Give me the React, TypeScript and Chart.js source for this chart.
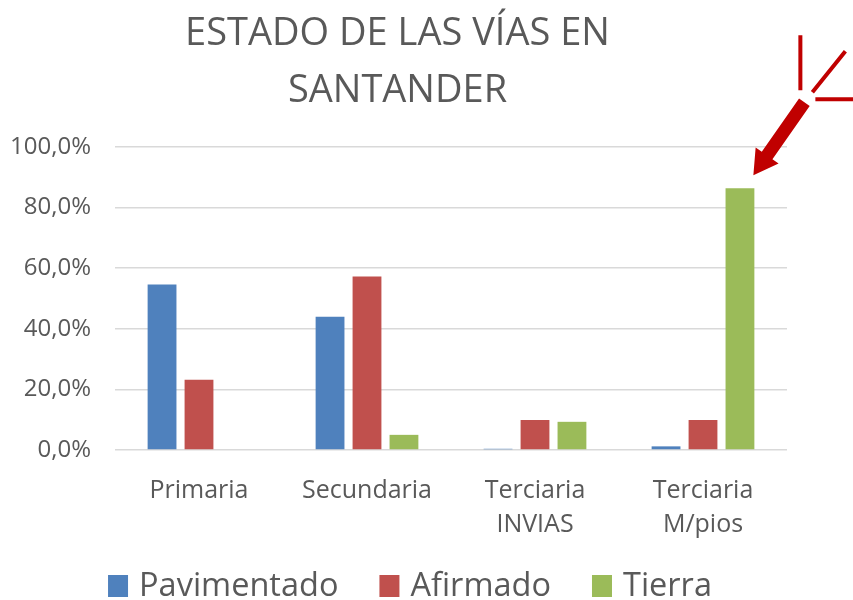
import React, { useEffect, useRef } from "react";
import { Chart, registerables } from "chart.js";

Chart.register(...registerables);

const categories: (string | string[])[] = [
  "Primaria",
  "Secundaria",
  ["Terciaria", "INVIAS"],
  ["Terciaria", "M/pios"],
];
const pavimentado = [54.6, 44.0, 0.4, 1.2];
const afirmado = [23.2, 57.3, 9.9, 9.9];
const tierra = [0, 5.0, 9.3, 86.4];
const titleLines = ["ESTADO DE LAS VÍAS EN", "SANTANDER"];

const FONT = "'Open Sans', 'DejaVu Sans', sans-serif";

const arrowPlugin = {
  id: "arrowNote",
  afterDatasetsDraw(chart: any) {
    const meta = chart.getDatasetMeta(2);
    const el = meta && meta.data[3];
    if (!el) return;
    const ctx = chart.ctx;
    const tx = el.x + el.width / 2 - 1;
    const ty = el.y - 13;
    ctx.save();
    ctx.fillStyle = "#C00000";
    ctx.strokeStyle = "#C00000";
    const ex = tx + 51;
    const ey = ty - 73;
    const ang = Math.atan2(ty - ey, tx - ex);
    const headLen = 24;
    const headW = 14;
    const shaftW = 6.5;
    const bx = tx - Math.cos(ang) * headLen;
    const by = ty - Math.sin(ang) * headLen;
    const nx = -Math.sin(ang);
    const ny = Math.cos(ang);
    ctx.beginPath();
    ctx.moveTo(ex + nx * shaftW, ey + ny * shaftW);
    ctx.lineTo(bx + nx * shaftW, by + ny * shaftW);
    ctx.lineTo(bx + nx * headW, by + ny * headW);
    ctx.lineTo(tx, ty);
    ctx.lineTo(bx - nx * headW, by - ny * headW);
    ctx.lineTo(bx - nx * shaftW, by - ny * shaftW);
    ctx.lineTo(ex - nx * shaftW, ey - ny * shaftW);
    ctx.closePath();
    ctx.fill();
    ctx.lineWidth = 4;
    ctx.lineCap = "butt";
    ctx.beginPath();
    ctx.moveTo(tx + 47, ty - 140);
    ctx.lineTo(tx + 47, ty - 85);
    ctx.moveTo(tx + 59, ty - 83);
    ctx.lineTo(tx + 92, ty - 124);
    ctx.moveTo(tx + 62, ty - 76);
    ctx.lineTo(tx + 102, ty - 76);
    ctx.stroke();
    ctx.restore();
  },
};

// Legend drawn below the axis, from the datasets' own labels and colours
const legendPlugin = {
  id: "bottomLegend",
  afterDraw(chart: any) {
    const ctx = chart.ctx;
    const ds = chart.data.datasets;
    const fontSize = 32.5;
    const boxW = 20;
    const boxH = 22;
    const gapBoxText = 11;
    const gapItems = 41;
    ctx.save();
    ctx.font = `${fontSize}px ${FONT}`;
    const widths = ds.map((d: any) => boxW + gapBoxText + ctx.measureText(d.label).width);
    const total = widths.reduce((a: number, b: number) => a + b, 0) + gapItems * (ds.length - 1);
    const cx = 410;
    const cy = chart.height - 14;
    let x = cx - total / 2;
    ctx.textBaseline = "middle";
    ctx.textAlign = "left";
    ds.forEach((d: any, i: number) => {
      ctx.fillStyle = d.backgroundColor;
      ctx.fillRect(x, cy - boxH / 2, boxW, boxH);
      ctx.fillStyle = "#595959";
      ctx.fillText(d.label, x + boxW + gapBoxText, cy + 1);
      x += widths[i] + gapItems;
    });
    ctx.restore();
  },
};

const PAD_LEFT = 8;

export default function App() {
  const ref = useRef<HTMLCanvasElement>(null);
  useEffect(() => {
    document.body.style.margin = "0";
    if (!ref.current) return;
    const chart = new Chart(ref.current, {
      type: "bar",
      data: {
        labels: categories,
        datasets: [
          { label: "Pavimentado", data: pavimentado, backgroundColor: "#4F81BD" },
          { label: "Afirmado", data: afirmado, backgroundColor: "#C0504D" },
          { label: "Tierra", data: tierra, backgroundColor: "#9BBB59" },
        ],
      },
      options: {
        animation: false,
        responsive: false,
        maintainAspectRatio: false,
        layout: { padding: { left: PAD_LEFT, right: 66, top: 6, bottom: 42 } },
        datasets: {
          bar: { categoryPercentage: 0.66, barPercentage: 0.78 },
        },
        plugins: {
          title: {
            display: true,
            text: titleLines,
            color: "#595959",
            font: { family: FONT, size: 38, weight: "normal", lineHeight: 1.5 },
            padding: { top: 0, bottom: 27 },
          },
          legend: { display: false },
          tooltip: { enabled: false },
        },
        scales: {
          x: {
            grid: { display: false },
            border: { display: false },
            ticks: {
              color: "#595959",
              font: { family: FONT, size: 25, lineHeight: 1.36 },
              padding: 16,
              maxRotation: 0,
              autoSkip: false,
            },
          },
          y: {
            min: 0,
            max: 100,
            border: { display: false },
            grid: { color: "#D9D9D9", lineWidth: 1.5, drawTicks: false },
            afterFit: (s: any) => {
              s.width = 115 - PAD_LEFT;
            },
            ticks: {
              stepSize: 20,
              color: "#595959",
              font: { family: FONT, size: 24 },
              padding: 24,
              callback: (v: any) => Number(v).toFixed(1).replace(".", ",") + "%",
            },
          },
        },
      },
      plugins: [arrowPlugin, legendPlugin],
    });
    return () => chart.destroy();
  }, []);
  return (
    <div style={{ width: 853, height: 600 }}>
      <canvas ref={ref} width={853} height={600} />
    </div>
  );
}
